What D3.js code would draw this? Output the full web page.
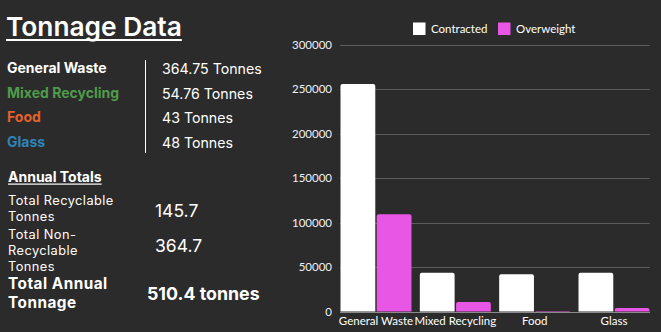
<!DOCTYPE html>
<html>
<head>
<meta charset="utf-8">
<script src="https://cdn.jsdelivr.net/npm/d3@7"></script>
<style>
  html, body { margin: 0; padding: 0; background: #2b2b2b; }
  svg { display: block; }
</style>
</head>
<body>
<svg id="chart" width="661" height="332"></svg>
<script>
// Waste streams and their yearly tonnage
const categories = ["General Waste", "Mixed Recycling", "Food", "Glass"];
const streamColors = ["#ffffff", "#4f9b4b", "#e1622c", "#2f84b9"];
const streamTonnes = ["364.75 Tonnes", "54.76 Tonnes", "43 Tonnes", "48 Tonnes"];

// Annual totals block
const totalLabels = [["Total Recyclable", "Tonnes"], ["Total Non-", "Recyclable", "Tonnes"], ["Total Annual", "Tonnage"]];
const totalValues = ["145.7", "364.7", "510.4 tonnes"];

// Bar chart series (kg)
const seriesNames = ["Contracted", "Overweight"];
const seriesColors = ["#ffffff", "#e756e4"];
const contracted = [255500, 43600, 41800, 43600];
const overweight = [109200, 10600, 500, 3900];
const yTicks = [0, 50000, 100000, 150000, 200000, 250000, 300000];

const svg = d3.select("#chart");
const FONT = "Inter, 'Noto Sans', sans-serif";
const CFONT = "Lato, 'Noto Sans', sans-serif";

// ---- Left panel ----
const title = svg.append("text")
  .attr("x", 6).attr("y", 36)
  .attr("font-family", FONT).attr("font-size", 26.3).attr("font-weight", 600)
  .attr("fill", "#ffffff").text("Tonnage Data");
const tw = title.node().getComputedTextLength();
svg.append("rect").attr("x", 6).attr("y", 39).attr("width", tw).attr("height", 2).attr("fill", "#ffffff");

const rowY = [73, 98, 122, 147];
categories.forEach((c, i) => {
  svg.append("text").attr("x", 7).attr("y", rowY[i])
    .attr("font-family", FONT).attr("font-size", 14).attr("font-weight", 700)
    .attr("fill", streamColors[i]).text(c);
  svg.append("text").attr("x", 162).attr("y", rowY[i] + 1)
    .attr("font-family", FONT).attr("font-size", 14.2).attr("font-weight", 400)
    .attr("fill", "#ffffff").text(streamTonnes[i]);
});
svg.append("line").attr("x1", 145.5).attr("x2", 145.5).attr("y1", 60).attr("y2", 153)
  .attr("stroke", "#ffffff").attr("stroke-width", 1);

const at = svg.append("text").attr("x", 8).attr("y", 182)
  .attr("font-family", FONT).attr("font-size", 14).attr("font-weight", 700)
  .attr("fill", "#ffffff").text("Annual Totals");
const aw = at.node().getComputedTextLength();
svg.append("rect").attr("x", 8).attr("y", 183.5).attr("width", aw).attr("height", 1.2).attr("fill", "#ffffff");

// Multi-line labels, centred on each value row
const labelCenter = [212.7, 255, 298.7];
const valueY = [217, 252, 300];
totalLabels.forEach((lines, i) => {
  const bold = i === 2;
  const fs = bold ? 15.3 : 12.8;
  const lh = fs * 1.22;
  const first = labelCenter[i] - (lines.length - 1) * lh / 2;
  lines.forEach((line, j) => {
    svg.append("text").attr("x", 8).attr("y", first + j * lh)
      .attr("font-family", FONT).attr("font-size", fs)
      .attr("letter-spacing", bold ? 0.5 : 0.45)
      .attr("font-weight", bold ? 700 : 400).attr("fill", "#ffffff").text(line);
  });
  svg.append("text").attr("x", bold ? 147 : 155).attr("y", valueY[i])
    .attr("font-family", FONT).attr("font-size", bold ? 17.8 : 17.5)
    .attr("font-weight", bold ? 700 : 400).attr("fill", "#ffffff").text(totalValues[i]);
});

// ---- Bar chart ----
const y = d3.scaleLinear().domain([0, 300000]).range([311.5, 44.5]);
const x0 = d3.scaleBand().domain(categories).range([340.5, 649.5]).paddingInner(0.105).paddingOuter(0).align(0);
const x1 = d3.scaleBand().domain(seriesNames).range([0, x0.bandwidth()]).paddingInner(0.04);

const grid = svg.append("g");
grid.selectAll("line").data(yTicks).join("line")
  .attr("x1", 340).attr("x2", 650)
  .attr("y1", d => Math.round(y(d)) + 0.5).attr("y2", d => Math.round(y(d)) + 0.5)
  .attr("stroke", d => d === 0 ? "#8a8a8a" : "#5c5c5c").attr("stroke-width", 1);

const yAxis = d3.axisLeft(y).tickValues(yTicks).tickSize(0).tickPadding(0).tickFormat(d3.format("d"));
const yg = svg.append("g").attr("transform", "translate(332,0)").call(yAxis);
yg.select(".domain").remove();
yg.selectAll("text").attr("font-family", CFONT).attr("font-size", 11.5).attr("fill", "#eef2f8");

function topRounded(xp, yp, w, h, r) {
  r = Math.min(r, h, w / 2);
  return `M${xp},${yp + h}V${yp + r}Q${xp},${yp} ${xp + r},${yp}H${xp + w - r}Q${xp + w},${yp} ${xp + w},${yp + r}V${yp + h}Z`;
}

const rows = categories.map((c, i) => ({ cat: c, vals: [contracted[i], overweight[i]] }));
const groups = svg.append("g").selectAll("g").data(rows).join("g")
  .attr("transform", d => `translate(${x0(d.cat)},0)`);
groups.selectAll("path").data(d => d.vals.map((v, k) => ({ k, v }))).join("path")
  .attr("fill", d => seriesColors[d.k])
  .attr("d", d => topRounded(x1(seriesNames[d.k]), y(d.v), x1.bandwidth(), y(0) - y(d.v), 2));

const xAxis = d3.axisBottom(x0).tickSize(0).tickPadding(0);
const xg = svg.append("g").attr("transform", "translate(0,315)").call(xAxis);
xg.select(".domain").remove();
xg.selectAll("text").attr("font-family", CFONT).attr("font-size", 11.5).attr("fill", "#ffffff").attr("dy", "0.85em");

// Legend
const legX = [413, 498];
seriesNames.forEach((s, i) => {
  svg.append("rect").attr("x", legX[i]).attr("y", 22.5).attr("width", 12.5).attr("height", 12.5)
    .attr("fill", seriesColors[i]);
  svg.append("text").attr("x", legX[i] + 18).attr("y", 28.8).attr("dy", "0.35em")
    .attr("font-family", CFONT).attr("font-size", 11.5).attr("fill", "#ffffff").text(s);
});
</script>
</body>
</html>
